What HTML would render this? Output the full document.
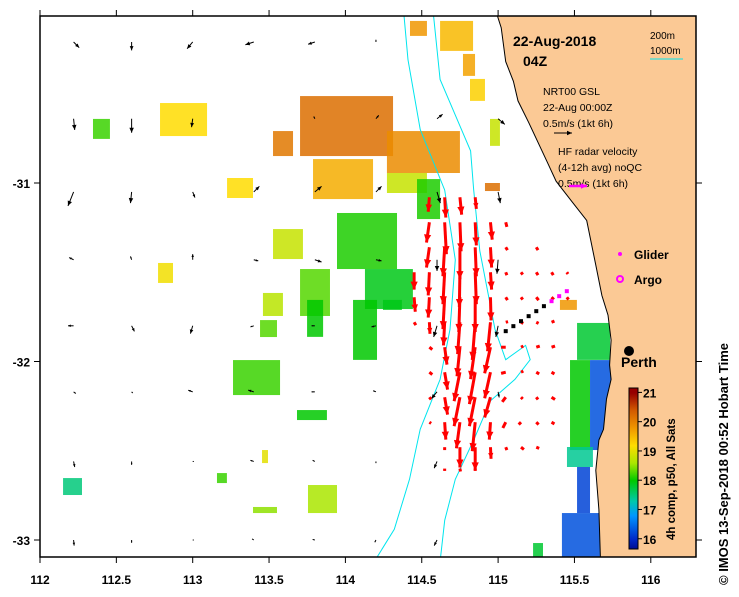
<!DOCTYPE html>
<html><head><meta charset="utf-8"><style>
html,body{margin:0;padding:0;background:#fff;}
svg text{font-family:"Liberation Sans",sans-serif;}
</style></head><body>
<svg id="chart" width="739" height="592" xmlns="http://www.w3.org/2000/svg">
<defs><clipPath id="clip"><rect x="40" y="16" width="656" height="541"/></clipPath></defs>
<g id="plot" clip-path="url(#clip)"></g>
<g id="axes"></g>
</svg>
<script>
// ---- data ----
const lonTicks=[112,112.5,113,113.5,114,114.5,115,115.5,116];
const latTicks=[-31,-32,-33];
const coastLon=[114.99,115.02,114.99,115.02,115.05,115.1,115.13,115.2,115.32,115.38,115.48,115.58,115.64,115.68,115.72,115.74,115.73,115.74,115.71,115.69,115.66,115.64,115.66,115.67];
const coastLat=[-29.9,-29.95,-30.05,-30.13,-30.32,-30.43,-30.54,-30.66,-30.88,-30.99,-31.1,-31.21,-31.46,-31.63,-31.74,-31.88,-32.02,-32.1,-32.21,-32.38,-32.44,-32.61,-32.83,-33.1];
const cALon=[114.377,114.41,114.49,114.65,114.72,114.685,114.62,114.49,114.42,114.32,114.19];
const cALat=[-30.0,-30.31,-30.70,-31.04,-31.43,-31.82,-32.10,-32.38,-32.66,-32.94,-33.12];
const cBLon=[114.57,114.62,114.82,114.84,114.88,114.98,115.05,115.18,115.21,115.11,114.95,114.84,114.72,114.65,114.62];
const cBLat=[-30.0,-30.42,-30.82,-31.04,-31.38,-31.82,-31.99,-31.91,-31.99,-32.10,-32.22,-32.44,-32.66,-32.89,-33.12];
const bLons=[112.22,112.6,113.0,113.4,113.8,114.2,114.6,115.0,115.4];
const bLats=[-30.21,-30.64,-31.05,-31.43,-31.8,-32.17,-32.56,-33.0];
const bU=[[0.1,0,-0.1,-0.15,-0.12,0,null,null,null],[0.02,0,-0.02,null,-0.02,0.05,0.1,0.12,null],[-0.1,-0.02,0.04,0.1,0.12,0.1,0.06,0.04,null],[-0.08,-0.02,0,0.08,0.12,0.1,0,-0.02,null],[-0.1,0.05,-0.04,-0.06,-0.06,-0.08,-0.06,-0.04,null],[0.04,0.02,-0.08,-0.1,-0.06,-0.05,-0.1,0.02,null],[0.02,0,0.02,-0.06,-0.04,0,-0.05,-0.02,null],[0.01,0,0.02,-0.03,-0.04,-0.02,-0.05,null,null]];
const bV=[[-0.1,-0.15,-0.12,-0.05,-0.04,0.04,null,null,null],[-0.2,-0.25,-0.15,null,0.04,0.06,0.08,-0.1,null],[-0.25,-0.2,-0.1,0.1,0.1,0.1,-0.2,-0.2,null],[0.04,0.06,0.1,-0.02,-0.04,-0.02,-0.2,-0.25,null],[0,-0.1,-0.14,-0.02,0,-0.02,-0.2,-0.2,null],[-0.03,-0.02,0.03,0.03,0,0.02,-0.12,-0.1,null],[-0.1,-0.06,0,0.02,0.02,-0.03,-0.12,null,null],[-0.1,-0.05,0,0.02,0.01,-0.04,-0.1,null,null]];
const rLons=[114.45,114.55,114.65,114.75,114.85,114.95,115.05,115.15,115.25,115.35,115.45];
const rLats=[-31.08,-31.22,-31.36,-31.5,-31.64,-31.78,-31.92,-32.06,-32.2,-32.34,-32.48,-32.6];
const rU=[[null,-0.02,0.02,0.03,0.02,null,null,null,null,null,null],
[null,-0.05,0.03,0.02,0.02,0.03,0.02,null,null,null,null],
[null,-0.05,-0.03,0,0.02,0.02,0.03,null,0.03,null,null],
[0,-0.02,-0.03,-0.01,0.02,0.02,0.02,0.03,0.03,0.03,0.02],
[0.02,-0.02,-0.03,-0.02,0,0.01,0.03,0.03,0.04,0.04,0.03],
[0.03,0.01,-0.02,-0.04,-0.05,-0.05,0.04,0.04,0.04,0.05,null],
[null,0.05,0.04,-0.05,-0.08,-0.1,-0.08,0.04,0.06,0.06,null],
[null,0.05,0.05,-0.1,-0.1,-0.1,-0.08,0.04,0.05,0.05,null],
[null,0.03,0.05,-0.1,-0.1,-0.1,-0.06,0.03,0.03,0.06,null],
[null,0.03,0.02,-0.06,-0.05,-0.02,-0.05,-0.04,0.04,0.05,null],
[null,null,0,0,0,0.01,0.02,0.05,0.05,null,null],
[null,null,0,0.01,0,null,null,null,null,null,null]];
const rV=[[null,-0.25,-0.35,-0.3,-0.2,null,null,null,null,null,null],
[null,-0.35,-0.55,-0.5,-0.4,-0.3,-0.08,null,null,null,null],
[null,-0.35,-0.5,-0.55,-0.5,-0.35,-0.05,null,-0.05,null,null],
[-0.3,-0.4,-0.55,-0.6,-0.55,-0.3,-0.05,-0.04,-0.05,-0.05,-0.03],
[-0.25,-0.35,-0.55,-0.6,-0.6,-0.4,-0.05,-0.04,-0.05,-0.04,-0.04],
[-0.05,-0.2,-0.4,-0.55,-0.65,-0.5,0.01,-0.02,-0.02,0.02,null],
[null,-0.04,-0.3,-0.5,-0.55,-0.45,0,0.02,0.02,0.02,null],
[null,-0.04,-0.3,-0.5,-0.55,-0.45,-0.02,0.02,-0.03,-0.03,null],
[null,-0.04,-0.3,-0.5,-0.5,-0.35,-0.08,-0.03,-0.04,-0.04,null],
[null,-0.02,-0.3,-0.45,-0.5,-0.3,-0.1,-0.04,-0.04,-0.03,null],
[null,null,-0.05,-0.35,-0.4,-0.2,-0.05,-0.04,-0.02,null,null],
[null,null,-0.04,-0.05,-0.04,null,null,null,null,null,null]];
// SST patches: lon, lat (top-left), width deg, height deg, temperature
const sstLon=[114.423,114.62,114.77,114.816,113.703,114.272,113.526,113.788,114.272,114.469,113.225,112.786,112.347,114.947,114.914,113.945,114.128,113.526,112.773,113.703,113.46,113.264,113.441,113.683,113.749,114.05,114.246,112.151,113.755,113.395,113.454,113.159,115.517,115.471,115.602,115.451,115.517,115.418,115.229,115.405];
const sstLat=[-30.092,-30.092,-30.277,-30.417,-30.513,-30.709,-30.709,-30.866,-30.944,-30.978,-30.972,-30.552,-30.641,-30.641,-31.0,-31.168,-31.482,-31.258,-31.448,-31.482,-31.616,-31.992,-31.768,-32.272,-31.655,-31.655,-31.655,-32.653,-32.692,-32.815,-32.496,-32.625,-31.784,-31.992,-31.992,-32.479,-32.591,-32.849,-33.017,-31.655];
const sstW=[0.111,0.216,0.079,0.098,0.609,0.478,0.131,0.393,0.262,0.151,0.17,0.308,0.111,0.065,0.098,0.393,0.314,0.196,0.098,0.196,0.131,0.308,0.111,0.196,0.105,0.157,0.124,0.124,0.19,0.157,0.039,0.065,0.216,0.131,0.144,0.17,0.085,0.249,0.065,0.111];
const sstH=[0.084,0.168,0.123,0.123,0.336,0.235,0.14,0.224,0.112,0.224,0.112,0.185,0.112,0.151,0.045,0.314,0.224,0.168,0.112,0.263,0.129,0.196,0.095,0.056,0.207,0.336,0.056,0.095,0.157,0.034,0.073,0.056,0.207,0.504,0.504,0.112,0.258,0.246,0.078,0.056];
const sstT=[19.8,19.5,19.7,19.3,20.2,19.9,20.1,19.6,18.8,18.1,19.2,19.2,18.2,18.8,20.2,18.1,17.9,18.8,19.1,18.3,18.7,18.2,18.3,18.0,18.0,18.0,17.9,17.5,18.6,18.5,19.0,18.2,17.8,18.0,16.3,17.4,16.2,16.3,17.8,19.8];
const cbTicks=[16,17,18,19,20,21];

// ---- scales ----
const X=lon=>40+152.7*(lon-112);
const Y=lat=>183-(lat+31)*178.5;
const ns="http://www.w3.org/2000/svg";
const plot=document.getElementById('plot'), axes=document.getElementById('axes');
function mk(tag,attrs,parent){const e=document.createElementNS(ns,tag);for(const k in attrs)e.setAttribute(k,attrs[k]);(parent||plot).appendChild(e);return e;}
function cmap(t){const stops=[[15.5,[0,0,120]],[16,[0,40,200]],[16.8,[0,150,255]],[17.3,[0,200,170]],[18,[0,200,0]],[18.6,[170,230,0]],[19.2,[255,220,0]],[19.8,[240,150,0]],[20.4,[210,90,0]],[21,[150,0,0]]];
 for(let i=1;i<stops.length;i++){if(t<=stops[i][0]){const a=stops[i-1],b=stops[i],f=Math.max(0,(t-a[0])/(b[0]-a[0]));return 'rgb('+a[1].map((v,j)=>Math.round(v+(b[1][j]-v)*f)).join(',')+')';}}return 'rgb(150,0,0)';}

// SST
sstLon.forEach((l,i)=>{const r=mk('rect',{x:X(l),y:Y(sstLat[i]),width:sstW[i]*152.7,height:sstH[i]*178.5,fill:cmap(sstT[i]),'fill-opacity':0.85});
 
 });

// land
let d='M '+X(coastLon[0])+' 10';
coastLon.forEach((l,i)=>{d+=' L '+X(l).toFixed(1)+' '+Y(coastLat[i]).toFixed(1);});
d+=' L 700 562 L 700 10 Z';
const land=mk('path',{d:d,fill:'#fbc995',stroke:'#000','stroke-width':1});



// contours
function line(lons,lats,name){let p='';lons.forEach((l,i)=>{p+=(i?' L ':'M ')+X(l).toFixed(1)+' '+Y(lats[i]).toFixed(1);});
 const e=mk('path',{d:p,fill:'none',stroke:'#00e5ee','stroke-width':1});
 
 }
line(cALon,cALat,'isobath-1000m');line(cBLon,cBLat,'isobath-200m');

function arrow(x,y,u,v,scale,col,w,hs){const dx=u*scale,dy=-v*scale;const x2=x+dx,y2=y+dy;const L=Math.hypot(dx,dy);const g=mk('g',{});
 mk('line',{x1:x,y1:y,x2:x2,y2:y2,stroke:col,'stroke-width':w},g);
 if(L>2){const ux=dx/L,uy=dy/L;const h=Math.min(hs,L*0.5);
  mk('polygon',{points:[x2,y2,x2-ux*h-uy*h*0.45,y2-uy*h+ux*h*0.45,x2-ux*h+uy*h*0.45,y2-uy*h-ux*h*0.45].join(','),fill:col},g);}
 return g;}
// black model arrows
bLats.forEach((la,j)=>bLons.forEach((lo,i)=>{const u=bU[j][i],v=bV[j][i];if(u===null||v===null)return;
 const g=arrow(X(lo),Y(la),u,v,56,'#000',1,5);
 
 }));
// red radar arrows
rLats.forEach((la,j)=>rLons.forEach((lo,i)=>{const u=rU[j][i],v=rV[j][i];if(u===null||v===null)return;
 const g=arrow(X(lo),Y(la),u,v,58,'#f00',3,8);
 
 }));

// glider track
for(let k=0;k<9;k++){const lo=115.05+k*0.05,la=-31.83+k*0.028;const r=mk('rect',{x:X(lo)-2,y:Y(la)-2,width:4,height:4,fill:k>5?'#f0f':'#000'});
 
 }

// Perth
const pc=mk('circle',{cx:629,cy:351,r:5,fill:'#000'});
function txt(x,y,s,size,weight,parent,anchor){const t=mk('text',{x:x,y:y,'font-size':size,'font-weight':weight||'normal','text-anchor':anchor||'start',fill:'#000'},parent);t.textContent=s;return t;}
let t;
t=txt(621,367,'Perth',14,'bold');
t=txt(513,46,'22-Aug-2018',14,'bold');
t=txt(523,66,'04Z',14,'bold');
t=txt(650,39,'200m',10);
t=txt(650,54,'1000m',10);
mk('line',{x1:650,y1:59,x2:683,y2:59,stroke:'#00e5ee','stroke-width':1});
['NRT00 GSL','22-Aug 00:00Z','0.5m/s (1kt 6h)'].forEach((s,i)=>{t=txt(543,95+i*16,s,10.5);});
arrow(554,133,0.5,0,36,'#000',1,5);
['HF radar velocity','(4-12h avg) noQC','0.5m/s (1kt 6h)'].forEach((s,i)=>{t=txt(558,155+i*16,s,10.5);});
arrow(569,186,0.5,0,36,'#f0f',2.5,6);
mk('circle',{cx:620,cy:254,r:2,fill:'#f0f'});
t=txt(634,259,'Glider',12,'bold');
mk('circle',{cx:620,cy:279,r:3,fill:'none',stroke:'#f0f','stroke-width':2});
t=txt(634,284,'Argo',12,'bold');

// colorbar
const cb=mk('g',{});
const cbTop=388,cbBot=549,cbMin=15.65,cbMax=21.15;const CY=v=>cbBot-(v-cbMin)/(cbMax-cbMin)*(cbBot-cbTop);
for(let y=cbTop;y<cbBot;y++){const v=cbMin+(cbBot-y)/(cbBot-cbTop)*(cbMax-cbMin);mk('rect',{x:629,y:y,width:9,height:1.2,fill:cmap(v)},cb);}
mk('rect',{x:629,y:cbTop,width:9,height:cbBot-cbTop,fill:'none',stroke:'#000','stroke-width':1},cb);
cbTicks.forEach(v=>{mk('line',{x1:638,x2:642,y1:CY(v),y2:CY(v),stroke:'#000'},cb);const tt=txt(643,CY(v)+5,String(v),12,'bold',cb);});
t=mk('text',{x:0,y:0,'font-size':11.5,'font-weight':'bold',transform:'translate(675,540) rotate(-90)'},cb);t.textContent='4h comp, p50, All Sats';

// axes
mk('rect',{x:40,y:16,width:656,height:541,fill:'none',stroke:'#000','stroke-width':1.5},axes);
lonTicks.forEach(l=>{const x=X(l);mk('line',{x1:x,x2:x,y1:557,y2:563,stroke:'#000'},axes);mk('line',{x1:x,x2:x,y1:16,y2:10,stroke:'#000'},axes);
 const tt=txt(x,584,String(l),12,'bold',axes,'middle');});
latTicks.forEach(l=>{const y=Y(l);mk('line',{x1:34,x2:40,y1:y,y2:y,stroke:'#000'},axes);mk('line',{x1:696,x2:702,y1:y,y2:y,stroke:'#000'},axes);
 const tt=txt(30,y+5,String(l),12,'bold',axes,'end');});
t=mk('text',{x:0,y:0,'font-size':13,'font-weight':'bold',transform:'translate(728,585) rotate(-90)'},axes);t.textContent='© IMOS 13-Sep-2018 00:52 Hobart Time';
</script>
</body></html>
